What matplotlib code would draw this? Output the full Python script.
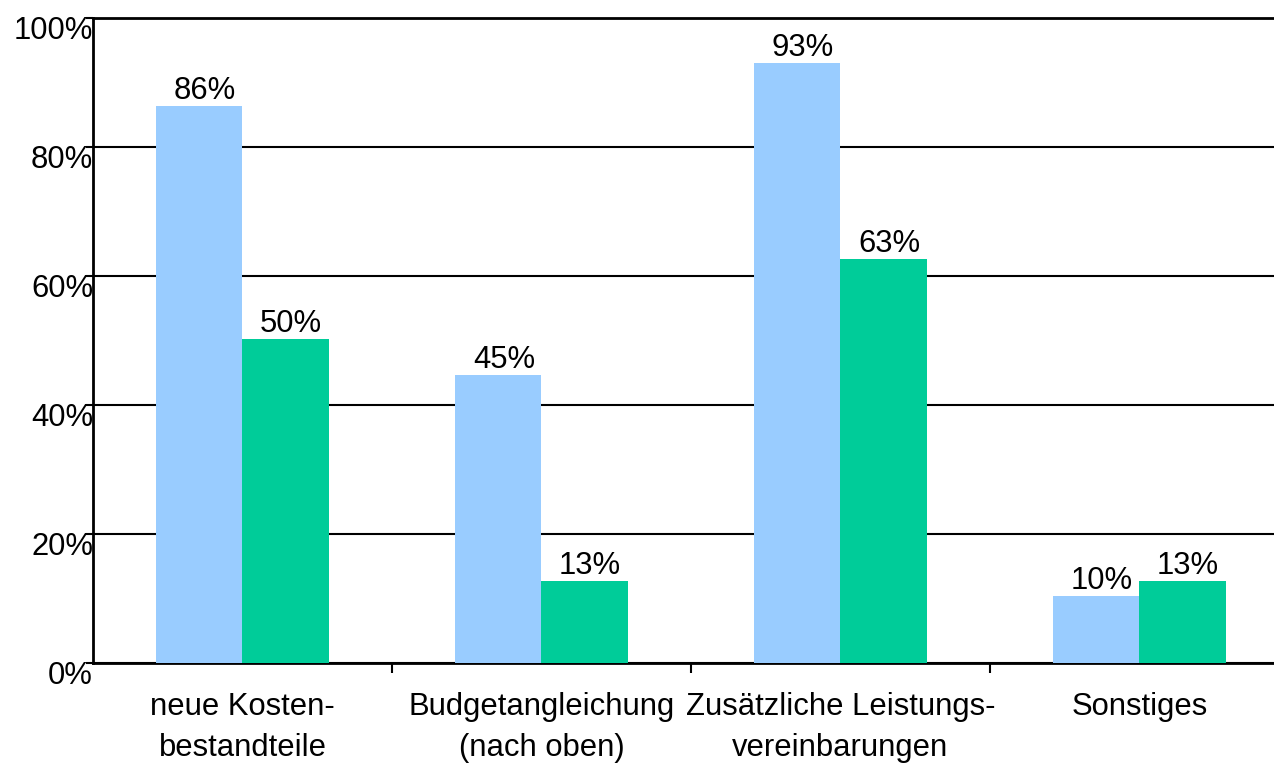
import numpy as np
import matplotlib.pyplot as plt
import matplotlib.transforms as mtransforms

plt.rcParams['font.family'] = ['Liberation Sans', 'DejaVu Sans']

categories = ['neue Kosten-\nbestandteile', 'Budgetangleichung\n(nach oben)',
              'Zusätzliche Leistungs-\nvereinbarungen', 'Sonstiges']
series_a = [86.4, 44.7, 93.0, 10.4]
series_b = [50.2, 12.7, 62.6, 12.7]
yticks = [0, 20, 40, 60, 80, 100]

x = np.arange(len(categories))
width = 0.288
fs = 22.3

fig = plt.figure(figsize=(12.74, 7.64), dpi=100)
ax = fig.add_axes([0.073, 0.132, 0.927, 0.844])

rects1 = ax.bar(x - width / 2, series_a, width, color='#99CCFF', zorder=3)
rects2 = ax.bar(x + width / 2, series_b, width, color='#00CC99', zorder=3)

labels = ax.bar_label(rects1, fmt='{:.0f}%', fontsize=fs, padding=0)
labels += ax.bar_label(rects2, fmt='{:.0f}%', fontsize=fs, padding=0)
for t in labels:
    t.xyann = (4, 0)

ax.set_xlim(-0.5, 3.45)
ax.set_ylim(0, 100)
ax.set_yticks(yticks, [f'{v}%' for v in yticks], fontsize=fs)
ax.tick_params(axis='y', length=5, width=1.5, pad=-5)
offset = mtransforms.ScaledTranslation(0, -9 / 100, fig.dpi_scale_trans)
for lab in ax.get_yticklabels():
    lab.set_transform(lab.get_transform() + offset)

ax.set_xticks(x, categories, fontsize=fs, linespacing=1.45)
ax.tick_params(axis='x', length=0, pad=21)
ax.set_xticks(x[:-1] + 0.5, minor=True)
ax.tick_params(axis='x', which='minor', length=7, width=1.5)

ax.yaxis.grid(True, color='black', linewidth=1.5, zorder=0)
ax.spines['right'].set_visible(False)
for s in ['left', 'bottom', 'top']:
    ax.spines[s].set_linewidth(2)

plt.savefig('out.png', dpi=100)
